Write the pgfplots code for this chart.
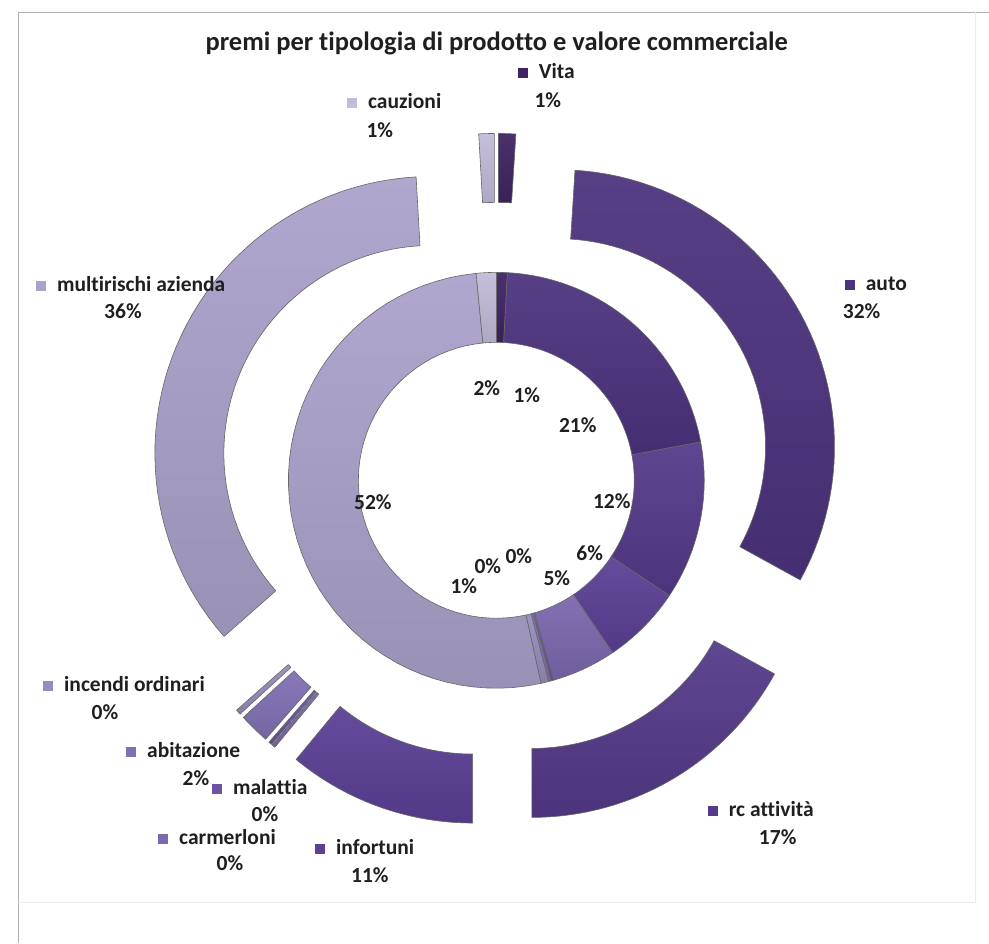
\documentclass[border=0pt]{standalone}
\usepackage{pgfplots}
\pgfplotsset{compat=1.18}
\usepackage{pgfplotstable}
\usepackage{fontspec}
\setmainfont{Carlito}[Ligatures={NoCommon}]

% category colours, dark to light
\definecolor{cVita}{HTML}{3E2462}
\definecolor{cAuto}{HTML}{4C337E}
\definecolor{cRc}{HTML}{543A8A}
\definecolor{cInf}{HTML}{5B4096}
\definecolor{cCar}{HTML}{7B68AE}
\definecolor{cMal}{HTML}{6A53A2}
\definecolor{cAbi}{HTML}{8170B4}
\definecolor{cInc}{HTML}{978DBC}
\definecolor{cMul}{HTML}{ABA1CB}
\definecolor{cCau}{HTML}{C2BBDA}

% outer ring: premi (%)
\pgfplotstableread{
key share col
Vita 1.0 cVita
auto 32.0 cAuto
rc 17.0 cRc
infortuni 11.0 cInf
carmerloni 0.2 cCar
malattia 0.2 cMal
abitazione 1.8 cAbi
incendi 0.3 cInc
multirischi 35.6 cMul
cauzioni 0.9 cCau
}\outerring

% inner ring: valore commerciale (%)
\pgfplotstableread{
key share col
Vita 0.85 cVita
auto 21.2 cAuto
rc 12.3 cRc
infortuni 6.2 cInf
carmerloni 5.0 cCar
malattia 0.2 cMal
abitazione 0.2 cAbi
incendi 0.6 cInc
multirischi 51.9 cMul
cauzioni 1.55 cCau
}\innerring

\def\cx{496.5}
\def\cy{462.5}

\pgfplotsset{ringpiece/.style={draw=black!60, line width=0.6pt, line join=round, no markers}}
\tikzset{lab/.style={font=\fontsize{21.5bp}{24bp}\selectfont\bfseries, text=black!88, inner sep=0pt}}

% #1 table, #2 inner radius, #3 outer radius, #4 explosion
\newcommand\ring[4]{%
  \def\cum{0}%
  \pgfplotstablegetrowsof{#1}%
  \pgfmathtruncatemacro\last{\pgfplotsretval-1}%
  \pgfplotsforeachungrouped \i in {0,...,\last}{%
    \pgfplotstablegetelem{\i}{share}\of{#1}\let\sh\pgfplotsretval
    \pgfplotstablegetelem{\i}{col}\of{#1}\let\co\pgfplotsretval
    \pgfmathsetmacro\ta{90-3.6*\cum}%
    \pgfmathsetmacro\cum{\cum+\sh}%
    \pgfmathsetmacro\dt{-3.6*\sh}%
    \pgfmathsetmacro\ox{\cx+#4*cos(\ta+(\dt)/2)}%
    \pgfmathsetmacro\oy{\cy+#4*sin(\ta+(\dt)/2)}%
    \edef\doplot{\noexpand\addplot[ringpiece,top color=\co!94!white,bottom color=\co!90!black,domain=0:4,samples=201]
      ({\ox+(#3-(#3-#2)*(min(max(x-1,0),1)-min(max(x-3,0),1)))*cos(\ta+(\dt)*(min(x,1)-min(max(x-2,0),1)))},
       {\oy+(#3-(#3-#2)*(min(max(x-1,0),1)-min(max(x-3,0),1)))*sin(\ta+(\dt)*(min(x,1)-min(max(x-2,0),1)))});}%
    \doplot
  }%
}

\newcommand\sq[1]{\textcolor{#1}{\rule[0.5bp]{10bp}{10bp}}}
% label: marker x, baseline y, colour, name, percent x, percent y, percent
\newcommand\catlabel[7]{%
  \node[lab, anchor=base west] at (#1,943-#2) {\sq{#3}\hspace{11bp}#4};
  \node[lab] at (#5,943-#6) {#7};
}

\begin{document}
\begin{tikzpicture}
\begin{axis}[
  width=989bp, height=943bp, scale only axis,
  xmin=0, xmax=989, ymin=0, ymax=943,
  hide axis, clip=false,
]
\path (0,0) rectangle (989,943);
\draw[black!30, line width=0.8bp] (18,0) -- (18,931) -- (989,931);
\draw[black!8, line width=0.8bp] (976,931) -- (976,40) -- (18,40);

\ring{\innerring}{138}{208}{0}
\ring{\outerring}{208}{277}{70}

\node[font=\fontsize{26.5bp}{30bp}\selectfont\bfseries, text=black!88] at (497,943-43)
  {premi per tipologia di prodotto e valore commerciale};

\catlabel{518}{79}{cVita}{Vita}{548}{100}{1\%}
\catlabel{347}{109}{cCau}{cauzioni}{380}{130}{1\%}
\catlabel{845}{291}{cAuto}{auto}{862}{311}{32\%}
\catlabel{36}{292}{cMul}{multirischi azienda}{123}{311}{36\%}
\catlabel{43}{692}{cInc}{incendi ordinari}{105}{712}{0\%}
\catlabel{126}{758}{cAbi}{abitazione}{196}{778}{2\%}
\catlabel{212}{795}{cMal}{malattia}{265}{815}{0\%}
\catlabel{158}{845}{cCar}{carmerloni}{230}{864}{0\%}
\catlabel{315}{855}{cInf}{infortuni}{370}{876}{11\%}
\catlabel{708}{817}{cRc}{rc attività}{778}{838}{17\%}

% inner ring values
\node[lab] at (487,943-388) {2\%};
\node[lab] at (527,943-395) {1\%};
\node[lab] at (578,943-425) {21\%};
\node[lab] at (612,943-501) {12\%};
\node[lab] at (590,943-553) {6\%};
\node[lab] at (557,943-578) {5\%};
\node[lab] at (519,943-556) {0\%};
\node[lab] at (488,943-566) {0\%};
\node[lab] at (464,943-586) {1\%};
\node[lab] at (373,943-502) {52\%};
\end{axis}
\end{tikzpicture}
\end{document}
